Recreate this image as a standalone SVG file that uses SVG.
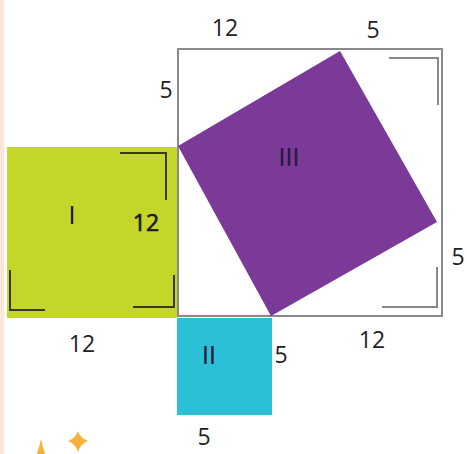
<svg xmlns="http://www.w3.org/2000/svg" width="467" height="454" viewBox="0 0 467 454">
<style>
.t{font-family:"Open Sans","Liberation Sans",sans-serif;font-size:23px;fill:#222;text-anchor:middle}
.r{font-family:"Liberation Sans",sans-serif;font-size:25px;fill:#2a1a3a;text-anchor:middle}
.mk{fill:none;stroke:#3a3a20;stroke-width:2}
.mg{fill:none;stroke:#8a8a8a;stroke-width:2}
</style>
<rect width="467" height="454" fill="#fff"/>
<rect x="0" y="0" width="4" height="454" fill="#fbe6d8"/>
<g id="outline">
<rect x="178" y="49" width="264" height="267" fill="none" stroke="#8a8a8a" stroke-width="2"/>
<path class="mg" d="M389 58H438V105"/>
<path class="mg" d="M437 267V307H382"/>
</g>
<g id="square-I">
<rect x="7" y="147" width="170" height="171" fill="#c5d62a"/>
<path class="mk" d="M120 153H166V200"/>
<path class="mk" d="M10 270V310H45"/>
<path class="mk" d="M133 307H174V275"/>
<text class="r" x="72" y="224">I</text>
<text class="t" x="146" y="231" stroke="#111" stroke-width="0.6">12</text>
</g>
<g id="square-II">
<rect x="177" y="318" width="95" height="97" fill="#2bbfd8"/>
<text class="r" x="209" y="364">II</text>
</g>
<g id="square-III">
<polygon points="178,146 340,51 437,222 271,316" fill="#7b3a98"/>
<text class="r" x="289" y="166">III</text>
</g>
<g id="labels">
<text class="t" x="225" y="36">12</text>
<text class="t" x="373" y="38">5</text>
<text class="t" x="166" y="98">5</text>
<text class="t" x="458" y="265">5</text>
<text class="t" x="82" y="352">12</text>
<text class="t" x="372" y="348">12</text>
<text class="t" x="281" y="363">5</text>
<text class="t" x="204" y="445">5</text>
</g>
<g id="stars" fill="#f5b23a">
<path d="M78 431Q80 438 88 441Q80 444 78 452Q76 444 68 441Q76 438 78 431Z"/>
<path d="M41 439Q43 448 45 454H37Q39 448 41 439Z"/>
</g>
</svg>
